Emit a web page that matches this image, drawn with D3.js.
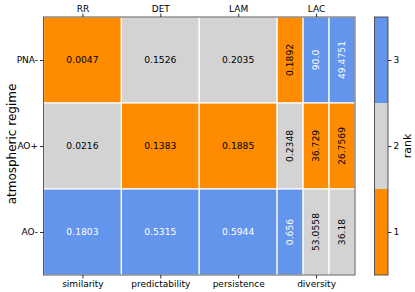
<!DOCTYPE html>
<html><head><meta charset="utf-8">
<script src="https://cdn.jsdelivr.net/npm/d3@7"></script>
<style>body{margin:0;background:#fff}svg{display:block;font-family:"DejaVu Sans",sans-serif}</style>
</head><body>
<script>
const regimes = ["PNA-", "AO+", "AO-"];
const measures = ["RR", "DET", "LAM", "LAC"];
const meanings = ["similarity", "predictability", "persistence", "diversity"];
// sub-columns: measure index for each sub column, and relative widths
const subMeasure = [0, 1, 2, 3, 3, 3];
const subWidth = [3, 3, 3, 1, 1, 1];
const values = [
  ["0.0047", "0.1526", "0.2035", "0.1892", "90.0", "49.4751"],
  ["0.0216", "0.1383", "0.1885", "0.2348", "36.729", "26.7569"],
  ["0.1803", "0.5315", "0.5944", "0.656", "53.0558", "36.18"]
];
const ranks = [
  [1, 2, 2, 1, 3, 3],
  [2, 1, 1, 2, 1, 1],
  [3, 3, 3, 3, 2, 2]
];
const rankTicks = [1, 2, 3];
const rankColors = ["#FF8C00", "#D3D3D3", "#6495ED"];

const W = 415, H = 292;
const L = 43.5, R = 355, T = 17, B = 275;
const svg = d3.select("body").append("svg").attr("width", W).attr("height", H);

const starts = [];
let acc = 0;
subWidth.forEach(w => { starts.push(acc); acc += w; });
const x = d3.scaleLinear().domain([0, acc]).range([L, R]);
const y = d3.scaleBand().domain(regimes).range([T, B]);
const color = d3.scaleOrdinal().domain(rankTicks).range(rankColors);

const cells = [];
regimes.forEach((r, i) => subWidth.forEach((w, j) => cells.push({r, i, j, x0: starts[j], x1: starts[j] + w, v: values[i][j], k: ranks[i][j]})));

const g = svg.append("g");
g.selectAll("rect.cell").data(cells).join("rect").attr("class", "cell")
  .attr("x", d => x(d.x0)).attr("y", d => y(d.r))
  .attr("width", d => x(d.x1) - x(d.x0)).attr("height", y.bandwidth())
  .attr("fill", d => color(d.k)).attr("stroke", "#fff").attr("stroke-width", 1.2);

g.selectAll("text.val").data(cells).join("text").attr("class", "val")
  .attr("transform", d => {
    const cx = (x(d.x0) + x(d.x1)) / 2, cy = y(d.r) + y.bandwidth() / 2;
    return subWidth[d.j] === 1 ? `translate(${cx},${cy}) rotate(-90)` : `translate(${cx},${cy})`;
  })
  .attr("text-anchor", "middle").attr("dy", "0.35em")
  .attr("font-size", 9.2).attr("fill", d => d.k === 3 ? "#fff" : "#000")
  .text(d => d.v);

// frame
svg.append("rect").attr("x", L).attr("y", T).attr("width", R - L).attr("height", B - T)
  .attr("fill", "none").attr("stroke", "#333").attr("stroke-width", 0.8);

// measure centers
const centers = measures.map((m, mi) => {
  const js = subMeasure.map((s, j) => s === mi ? j : -1).filter(j => j >= 0);
  return (x(starts[js[0]]) + x(starts[js[js.length - 1]] + subWidth[js[js.length - 1]])) / 2;
});
const topAxis = d3.axisTop(d3.scaleOrdinal().domain(measures).range(centers)).tickSize(3.5).tickPadding(2);
const botAxis = d3.axisBottom(d3.scaleOrdinal().domain(meanings).range(centers)).tickSize(3.5).tickPadding(2);
const yAxis = d3.axisLeft(d3.scalePoint().domain(regimes).range([y(regimes[0]) + y.bandwidth() / 2, y(regimes[2]) + y.bandwidth() / 2])).tickSize(3.5).tickPadding(2);

function style(sel) {
  sel.select(".domain").remove();
  sel.selectAll("text").attr("font-size", 9).attr("fill", "#000").attr("font-family", "DejaVu Sans");
  sel.selectAll("line").attr("stroke", "#000").attr("stroke-width", 0.8);
}
svg.append("g").attr("transform", `translate(0,${T})`).call(topAxis).call(style);
svg.append("g").attr("transform", `translate(0,${B})`).call(botAxis).call(style);
svg.append("g").attr("transform", `translate(${L},0)`).call(yAxis).call(style);

svg.append("text").attr("transform", `translate(12,${(T + B) / 2 - 2}) rotate(-90)`)
  .attr("text-anchor", "middle").attr("dy", "0.35em").attr("font-size", 12).text("atmospheric regime");

// colorbar
const CL = 374.5, CR = 388;
const cy = d3.scaleLinear().domain([0.5, 3.5]).range([B, T]);
svg.append("g").selectAll("rect").data(rankTicks).join("rect")
  .attr("x", CL).attr("width", CR - CL)
  .attr("y", d => cy(d + 0.5)).attr("height", d => cy(d - 0.5) - cy(d + 0.5))
  .attr("fill", d => color(d));
svg.append("rect").attr("x", CL).attr("y", T).attr("width", CR - CL).attr("height", B - T)
  .attr("fill", "none").attr("stroke", "#333").attr("stroke-width", 0.8);
svg.append("g").attr("transform", `translate(${CR},0)`)
  .call(d3.axisRight(cy).tickValues(rankTicks).tickFormat(d3.format("d")).tickSize(3.5).tickPadding(2)).call(style);
svg.append("text").attr("transform", `translate(407,${(T + B) / 2}) rotate(-90)`)
  .attr("text-anchor", "middle").attr("dy", "0.35em").attr("font-size", 11).text("rank");
</script>
</body></html>
